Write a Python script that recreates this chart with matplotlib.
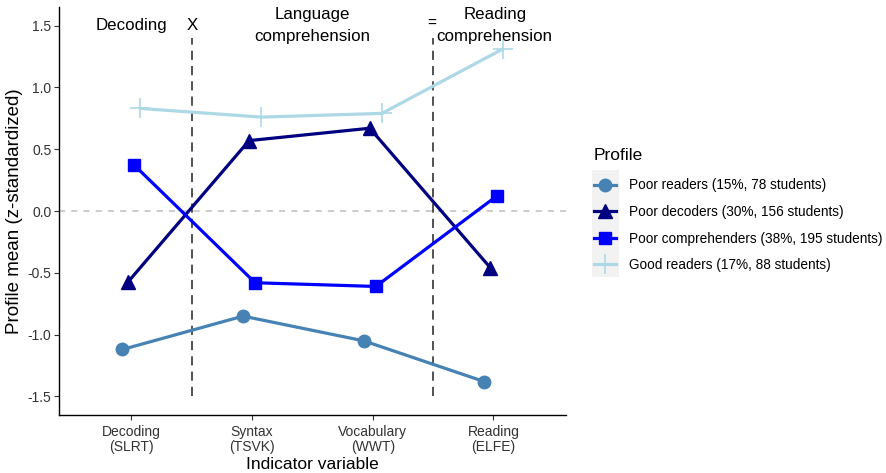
import matplotlib
matplotlib.use('Agg')
import matplotlib.pyplot as plt
from matplotlib.patches import Rectangle
import numpy as np

plt.rcParams['font.family'] = ['Liberation Sans', 'DejaVu Sans']

indicators = ['Decoding\n(SLRT)', 'Syntax\n(TSVK)', 'Vocabulary\n(WWT)', 'Reading\n(ELFE)']
profiles = ['Poor readers (15%, 78 students)',
            'Poor decoders (30%, 156 students)',
            'Poor comprehenders (38%, 195 students)',
            'Good readers (17%, 88 students)']
poor_readers = [-1.12, -0.85, -1.05, -1.38]
poor_decoders = [-0.57, 0.57, 0.67, -0.46]
poor_comprehenders = [0.37, -0.58, -0.61, 0.12]
good_readers = [0.83, 0.76, 0.79, 1.31]

series = [poor_readers, poor_decoders, poor_comprehenders, good_readers]
colors = ['#4682B4', '#000080', '#0000FF', '#ADD8E6']
markers = ['o', '^', 's', '+']
msizes = [9, 10, 9, 14]
dodge = [-0.075, -0.025, 0.025, 0.075]

fig = plt.figure(figsize=(8.87, 4.73), dpi=100)
ax = fig.add_axes([0.0665, 0.1226, 0.5715, 0.8624])

x = np.arange(1, len(indicators) + 1)
ax.axhline(0, color='#BEBEBE', lw=1.1, ls=(0, (4, 4)), zorder=1)
ax.vlines([1.5, 3.5], -1.5, 1.4, color='#222222', lw=1.1, linestyles=(0, (6, 4)), zorder=1)

handles = []
for vals, c, m, ms, d, lab in zip(series, colors, markers, msizes, dodge, profiles):
    h, = ax.plot(x + d, vals, color=c, lw=2.3, marker=m, ms=ms, mew=1.2 if m == '+' else 1,
                 label=lab, zorder=3)
    handles.append(h)

fs_ann = 12.2
ax.text(1, 1.5, 'Decoding', ha='center', va='center', fontsize=fs_ann)
ax.text(1.5, 1.5, 'X', ha='center', va='center', fontsize=fs_ann)
ax.text(2.5, 1.5, 'Language\ncomprehension', ha='center', va='center', fontsize=fs_ann, linespacing=1.55)
ax.text(3.49, 1.52, '=', ha='center', va='center', fontsize=fs_ann - 1)
ax.text(4.01, 1.5, 'Reading\ncomprehension', ha='center', va='center', fontsize=fs_ann, linespacing=1.55)

ax.set_xlim(0.4, 4.6)
ax.set_ylim(-1.65, 1.65)
ax.set_xticks(x)
ax.set_xticklabels(indicators, fontsize=10, color='#333333', linespacing=1.15)
ax.set_yticks([-1.5, -1.0, -0.5, 0.0, 0.5, 1.0, 1.5])
ax.set_yticklabels(['-1.5', '-1.0', '-0.5', '0.0', '0.5', '1.0', '1.5'], fontsize=10, color='#333333')
ax.tick_params(length=3.5, width=0.8, color='#333333')
ax.tick_params(axis='y', pad=2)
ax.set_xlabel('Indicator variable', fontsize=12.5, labelpad=2)
ax.set_ylabel('Profile mean (z-standardized)', fontsize=13.5, labelpad=3)
for s in ['top', 'right']:
    ax.spines[s].set_visible(False)
for s in ['left', 'bottom']:
    ax.spines[s].set_linewidth(1.0)

# grey key background like ggplot
fig.patches.append(Rectangle((592 / 887, 1 - 277 / 473), 27 / 887, 107 / 473,
                             transform=fig.transFigure, facecolor='#F2F2F2',
                             edgecolor='none', zorder=0))
leg = fig.legend(handles=handles, loc='upper left', bbox_to_anchor=(583 / 887, 1 - 137 / 473),
                 frameon=False, title='Profile', fontsize=9.8, title_fontsize=12.5,
                 handlelength=1.6, handletextpad=1.0, labelspacing=0.92, borderpad=0.3)
leg._legend_box.align = 'left'
leg._legend_box.sep = 0.92 * 9.8 + 2.2

fig.savefig('out.png', dpi=100)
